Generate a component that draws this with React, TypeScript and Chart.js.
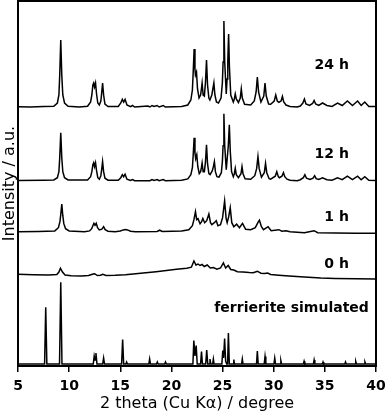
import React, { useEffect, useRef } from "react";
import { Chart, registerables } from "chart.js";

Chart.register(...registerables);

// Trace names (top to bottom) and their vertical stacking offsets (a.u.)
const traceNames = ["24 h", "12 h", "1 h", "0 h", "ferrierite simulated"];
const traceOffsets = [259, 185.3, 134.3, 86, 2];

// Label anchors (right edge x in degrees, y in a.u.)
const labelX = [37.35, 37.35, 37.35, 37.35, 39.3];
const labelY = [301, 212, 148.5, 102, 58];

const xTickValues = [5, 10, 15, 20, 25, 30, 35, 40];

// Patterns: [2theta, intensity above own baseline]
const pattern24h: [number, number][] = [
  [5, 0.3], [6.2, 0], [7.5, 0.5], [8.5, 0.8], [8.85, 4], [9.0, 12], [9.08, 32], [9.18, 67], [9.28, 32], [9.38, 12],
  [9.55, 4], [9.9, 0.8], [11.0, 0], [11.8, 0.8], [12.1, 5], [12.22, 12], [12.32, 22], [12.4, 24], [12.48, 20],
  [12.58, 24], [12.68, 13], [12.8, 4], [12.95, 2], [13.1, 6], [13.18, 14], [13.27, 24], [13.37, 12], [13.5, 3],
  [13.8, 0.5], [14.8, 0.5], [15.05, 4], [15.2, 7.7], [15.33, 5], [15.47, 7.7], [15.65, 2], [16.0, 0.3], [16.2, 1.5],
  [16.4, 0], [17.7, 1], [17.9, 0], [18.1, 1.5], [18.3, 0.5], [18.6, 1.5], [18.8, 0], [19.2, 1.5], [19.4, 0],
  [21.0, 0.5], [21.6, 2], [21.9, 7], [22.05, 17], [22.13, 35], [22.22, 58], [22.3, 38], [22.35, 32], [22.45, 35],
  [22.55, 18], [22.7, 9], [22.85, 12], [22.93, 18], [23.0, 24], [23.1, 12], [23.22, 11], [23.33, 25], [23.43, 47],
  [23.53, 22], [23.66, 9], [23.76, 7], [23.95, 12], [24.05, 18], [24.15, 24], [24.25, 12], [24.4, 5], [24.6, 4],
  [24.85, 9], [24.98, 24], [25.05, 45], [25.13, 86], [25.21, 45], [25.36, 13], [25.44, 28], [25.51, 45],
  [25.59, 73], [25.67, 40], [25.8, 12], [26.05, 5], [26.15, 8], [26.24, 13], [26.34, 8], [26.55, 4.5], [26.73, 9],
  [26.83, 18], [26.93, 9], [27.15, 2.7], [27.75, 2], [28.1, 6], [28.28, 15], [28.4, 30], [28.52, 15], [28.75, 5],
  [29.03, 11], [29.15, 24], [29.27, 11], [29.5, 3], [29.7, 2.7], [30.05, 6], [30.2, 12], [30.35, 6], [30.5, 4.7],
  [30.72, 6], [30.85, 10.5], [30.98, 5], [31.2, 2], [31.6, 0.5], [32.3, 0], [32.6, 1], [32.85, 4], [33.0, 8],
  [33.15, 3], [33.5, 1.5], [33.8, 3.5], [33.95, 6.5], [34.1, 3], [34.4, 1.5], [34.77, 4], [35.2, 1.5], [35.7, 0.5],
  [36.24, 4], [36.7, 1.5], [37.2, 6], [37.7, 1.5], [38.2, 6], [38.55, 1.5], [38.9, 5], [39.3, 0.5], [40, 0.5],
];

const pattern12h: [number, number][] = [
  [5, 0.3], [7.5, 0.5], [8.5, 0.8], [8.85, 3], [9.0, 9], [9.08, 23], [9.18, 48], [9.28, 23], [9.38, 9], [9.55, 3],
  [9.9, 0.8], [11.8, 0.8], [12.1, 4], [12.22, 9], [12.32, 16], [12.4, 18], [12.48, 14], [12.58, 18], [12.68, 10],
  [12.8, 3], [12.95, 1.5], [13.1, 5], [13.18, 11], [13.27, 19], [13.37, 9], [13.5, 2.5], [13.8, 0.5], [14.8, 0.5],
  [15.05, 3], [15.2, 6], [15.33, 4], [15.47, 6.5], [15.65, 1.5], [16.0, 0.3], [16.2, 1.2], [16.4, 0], [17.9, 0],
  [18.1, 1.2], [18.3, 0.3], [18.6, 1.2], [18.8, 0], [19.2, 1.2], [19.4, 0], [21.0, 0.5], [21.6, 1.8], [21.9, 6],
  [22.05, 13], [22.13, 26], [22.22, 43], [22.3, 28], [22.37, 22], [22.48, 26], [22.58, 14], [22.72, 7], [22.85, 9],
  [22.93, 13], [23.0, 17.7], [23.1, 9], [23.22, 9], [23.33, 19], [23.43, 36], [23.53, 17], [23.66, 7], [23.78, 6],
  [24.0, 10], [24.1, 14], [24.2, 19], [24.3, 9], [24.45, 4], [24.65, 3.5], [24.88, 8], [24.98, 19], [25.05, 35],
  [25.13, 67], [25.21, 35], [25.36, 11], [25.45, 22], [25.56, 35], [25.66, 56], [25.75, 30], [25.88, 9],
  [26.05, 4], [26.15, 7], [26.24, 12.3], [26.34, 6], [26.55, 3], [26.8, 7], [26.9, 14], [27.0, 7], [27.2, 2],
  [27.75, 1.5], [28.15, 5], [28.33, 12], [28.46, 24], [28.58, 12], [28.8, 3.5], [29.08, 8], [29.2, 17.3],
  [29.32, 8], [29.55, 2], [29.7, 1.5], [30.15, 4.5], [30.3, 9], [30.45, 4], [30.55, 3], [30.8, 4.5], [30.95, 8],
  [31.08, 4], [31.3, 1.5], [31.6, 0.5], [32.3, 0], [32.6, 1], [32.9, 3], [33.05, 6], [33.2, 2.5], [33.55, 1.3],
  [33.85, 2.5], [34.0, 5], [34.15, 2], [34.4, 1.3], [34.77, 3], [35.2, 1], [35.7, 0.5], [36.24, 3], [36.7, 1],
  [37.2, 4.5], [37.7, 1], [38.2, 4.5], [38.55, 1], [38.9, 4], [39.3, 0.5], [40, 0.3],
];

const pattern1h: [number, number][] = [
  [5, 0], [7.0, 0.3], [8.6, 0.8], [8.95, 4], [9.1, 10], [9.18, 17], [9.28, 27.7], [9.38, 16], [9.48, 8], [9.65, 3],
  [10.0, 0.8], [11.5, 0], [12.0, 0.8], [12.2, 3], [12.32, 6], [12.42, 8.4], [12.53, 6.5], [12.65, 8.4], [12.78, 4],
  [12.95, 1.8], [13.2, 2.5], [13.37, 5], [13.52, 2], [13.8, 0.5], [14.5, 0], [15.0, 0.8], [15.3, 1.8], [15.5, 2.3],
  [15.7, 1.8], [16.0, 0.5], [16.5, 0], [18.6, 0.3], [18.85, 1.5], [19.1, 0.3], [21.0, 0.8], [21.7, 2], [22.05, 6],
  [22.2, 12], [22.35, 20], [22.47, 12], [22.6, 13], [22.8, 8], [22.95, 10], [23.07, 13.3], [23.25, 9], [23.45, 11],
  [23.66, 17.7], [23.82, 9], [23.95, 7], [24.2, 9], [24.38, 11], [24.55, 6], [24.8, 7], [25.0, 14], [25.2, 30.7],
  [25.35, 13], [25.45, 9], [25.6, 15], [25.75, 24], [25.9, 9], [26.1, 5], [26.37, 7.5], [26.65, 4], [26.95, 8.3],
  [27.25, 2.5], [27.75, 2], [28.2, 4], [28.45, 9], [28.6, 11.5], [28.8, 5], [29.0, 2], [29.45, 5], [29.75, 1],
  [30.5, 2], [30.8, 0.5], [31.2, 1], [31.6, 0], [33.0, -1], [33.95, 1], [34.3, -1], [36.0, -1.2], [38, -1.5],
  [40, -1.6],
];

const pattern0h: [number, number][] = [
  [5, 5.7], [6.5, 5.3], [8.0, 5], [8.8, 5.5], [9.0, 8], [9.15, 11.7], [9.35, 8], [9.6, 5], [10.2, 4.3],
  [11.2, 4], [11.9, 4.5], [12.35, 6], [12.5, 6.3], [12.75, 4.5], [13.05, 4.8], [13.3, 5.8], [13.6, 4.6],
  [14.5, 4.8], [15.5, 5.3], [16.5, 6.2], [17.5, 7.2], [18.5, 8.3], [19.5, 9.5], [20.5, 10.8], [21.5, 11.8],
  [21.95, 12.8], [22.2, 19], [22.4, 15], [22.6, 16], [22.8, 14.5], [23.0, 15.5], [23.2, 13.5], [23.5, 15],
  [23.8, 12], [24.1, 12.5], [24.45, 10.8], [24.8, 12], [25.08, 17], [25.3, 12], [25.55, 14.5], [25.8, 10.5],
  [26.1, 10], [26.45, 8.3], [27.0, 8], [27.6, 7.5], [28.0, 7.3], [28.4, 8.8], [28.75, 6.8], [29.1, 6.6],
  [29.4, 7], [29.7, 5.5], [30.5, 4.8], [31.5, 4], [33, 3], [34.6, 2], [36, 1.5], [38, 1.2], [40, 1],
];

const patternSim: [number, number][] = [
  [5, 0], [7.6, 0], [7.71, 56.8], [7.82, 0], [9.06, 0], [9.18, 81.8], [9.3, 0], [12.36, 0], [12.45, 8],
  [12.53, 4], [12.62, 11], [12.72, 0], [13.28, 0], [13.37, 6], [13.46, 0], [15.13, 0], [15.23, 24.5],
  [15.33, 0], [15.55, 0], [15.62, 2], [15.7, 0], [17.79, 0], [17.87, 5], [17.95, 0], [18.54, 0], [18.62, 2],
  [18.7, 0], [19.34, 0], [19.42, 2], [19.5, 0], [22.1, 0], [22.19, 23.5], [22.3, 8], [22.42, 18.5], [22.52, 0],
  [22.85, 0], [22.94, 12.5], [23.03, 0], [23.35, 0], [23.45, 14], [23.55, 0], [23.7, 0], [23.77, 5], [23.85, 0],
  [24.03, 0], [24.1, 5], [24.17, 0], [24.93, 0], [25.02, 13.5], [25.1, 6], [25.2, 25.5], [25.3, 3], [25.4, 0],
  [25.49, 0], [25.57, 31], [25.66, 0], [26.03, 0], [26.1, 4.5], [26.17, 0], [26.86, 0], [26.93, 5], [27.0, 0],
  [28.32, 0], [28.4, 13], [28.48, 0], [29.07, 0], [29.15, 7.5], [29.23, 0], [30.02, 0], [30.1, 6], [30.18, 0],
  [30.63, 0], [30.7, 3.3], [30.77, 0], [32.9, 0], [32.97, 2.7], [33.04, 0], [33.88, 0], [33.95, 4], [34.02, 0],
  [34.75, 0], [34.82, 2], [34.89, 0], [36.95, 0], [37.02, 2], [37.09, 0], [37.95, 0], [38.02, 2.5], [38.09, 0],
  [38.85, 0], [38.92, 2], [38.99, 0], [40, 0],
];

const patterns = [pattern24h, pattern12h, pattern1h, pattern0h, patternSim];

const FONT = '"DejaVu Sans", sans-serif';

const framePlugin = {
  id: "frameAndLabels",
  afterDraw(chart: any) {
    const { ctx, chartArea: a, scales } = chart;
    ctx.save();
    ctx.strokeStyle = "#000";
    ctx.lineWidth = 2;
    ctx.strokeRect(a.left, a.top, a.right - a.left, a.bottom - a.top);
    ctx.fillStyle = "#000";
    ctx.font = `bold 14px ${FONT}`;
    ctx.textAlign = "right";
    ctx.textBaseline = "middle";
    traceNames.forEach((name, i) => {
      ctx.fillText(name, scales.x.getPixelForValue(labelX[i]), scales.y.getPixelForValue(labelY[i]));
    });
    ctx.restore();
  },
};

export default function App() {
  const ref = useRef<HTMLCanvasElement | null>(null);

  useEffect(() => {
    if (!ref.current) return;
    const chart = new Chart(ref.current, {
      type: "line",
      data: {
        datasets: patterns.map((p, i) => ({
          label: traceNames[i],
          data: p.map(([x, v]) => ({ x, y: v + traceOffsets[i] })),
          borderColor: "#000",
          borderWidth: 1.5,
          pointRadius: 0,
          tension: 0,
          fill: false,
        })),
      },
      options: {
        responsive: false,
        maintainAspectRatio: false,
        animation: false,
        layout: { padding: { top: 1, right: 9, left: 0, bottom: 0 } },
        plugins: { legend: { display: false }, tooltip: { enabled: false } },
        scales: {
          x: {
            type: "linear",
            min: 5,
            max: 40,
            afterFit: (s: any) => {
              s.height = 47;
              s.paddingLeft = 0;
              s.paddingRight = 0;
            },
            afterBuildTicks: (s: any) => { s.ticks = xTickValues.map((v) => ({ value: v })); },
            ticks: {
              stepSize: 5,
              color: "#000",
              padding: 6,
              maxRotation: 0,
              font: { family: FONT, size: 14, weight: "bold" },
            },
            grid: {
              drawOnChartArea: false,
              drawTicks: true,
              tickLength: 6,
              color: "#000",
              lineWidth: 1.5,
            },
            border: { display: true, color: "#000", width: 2 },
            title: {
              display: true,
              text: "2 theta (Cu Kα) / degree",
              color: "#000",
              padding: 0,
              font: { family: FONT, size: 16 },
            },
          },
          y: {
            type: "linear",
            min: 0,
            max: 365,
            afterFit: (s: any) => { s.width = 18; },
            ticks: { display: false },
            grid: { display: false, drawTicks: false },
            border: { display: false },
            title: {
              display: true,
              text: "Intensity / a.u.",
              color: "#000",
              padding: 0,
              font: { family: FONT, size: 16 },
            },
          },
        },
      },
      plugins: [framePlugin],
    });
    return () => chart.destroy();
  }, []);

  return (
    <div style={{ position: "absolute", left: 0, top: 0, width: 385, height: 413 }}>
      <canvas ref={ref} width={385} height={413} style={{ display: "block" }} />
    </div>
  );
}
